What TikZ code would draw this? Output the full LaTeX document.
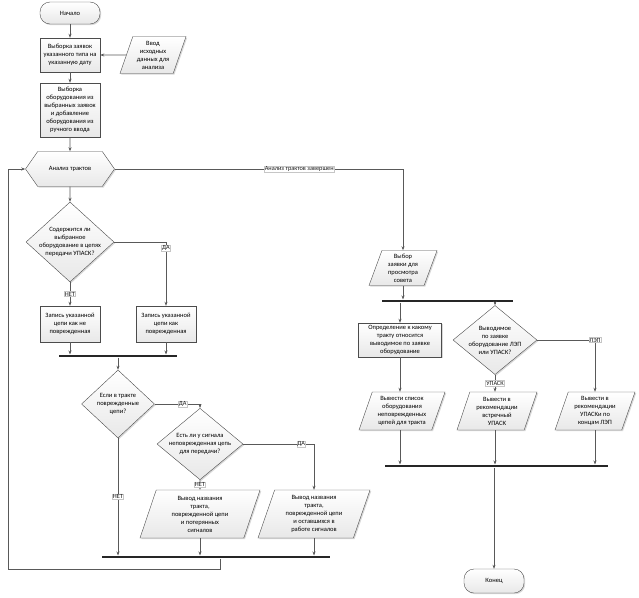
\documentclass[tikz,border=0pt]{standalone}
\usepackage{fontspec}
\setmainfont{Carlito}
\usetikzlibrary{shapes.geometric, shapes.symbols, positioning, arrows.meta, shadows}

\begin{document}
\begin{tikzpicture}[
    x=1pt, y=-1pt,
    font=\fontsize{6.5}{8}\selectfont,
    % Define the common look of all blocks
    block/.style={
        draw=black!70,
        top color=white,
        bottom color=gray!18,
        align=center,
        inner sep=1pt,
        drop shadow={shadow xshift=1.2pt, shadow yshift=-1.2pt, fill=gray!60}
    },
    terminal/.style={block, rectangle, rounded corners=10pt, minimum width=60pt, minimum height=22pt},
    process/.style={block, rectangle, minimum width=60pt, minimum height=34pt},
    data/.style={
        block, trapezium,
        trapezium left angle=67, trapezium right angle=113,
        trapezium stretches body,
        minimum height=37pt
    },
    decision/.style={block, diamond, inner sep=-3pt},
    preparation/.style={
        block, signal, signal to=west and east, signal pointer angle=110,
        minimum width=89pt, minimum height=35pt
    },
    % Define style for the merge bars
    bar/.style={rectangle, fill=black!85, inner sep=0pt, minimum height=2.6pt},
    % Define style for arrows and their labels
    arrow/.style={-{Stealth[length=4pt, width=3pt]}, line width=0.6pt, black!65},
    lbl/.style={fill=white, draw=gray!45, text=black!90, inner sep=0.6pt, font=\fontsize{6.3}{7}\selectfont}
]
\path [use as bounding box] (0,0) rectangle (639,597);

% 1. Input of the data
\node (start) [terminal] at (70,13) {Начало};
\node (box1) [process] at (70,55) {Выборка заявок\\указанного типа на\\указанную дату};
\node (input) [data, minimum width=66pt] at (153,55) {Ввод\\исходных\\данных для\\анализа};
\node (box2) [process, minimum height=54pt] at (70,110) {Выборка\\оборудования из\\выбранных заявок\\и добавление\\оборудования из\\ручного ввода};

% 2. Loop over the paths
\node (prep) [preparation] at (70,169) {Анализ трактов};
\node (dia1) [decision, minimum width=88pt, minimum height=80pt] at (70,242) {Содержится ли\\выбранное\\оборудование в цепях\\передачи УПАСК?};
\node (box3) [process, minimum height=36pt] at (70,324) {Запись указанной\\цепи как не\\поврежденная};
\node (box4) [process, minimum height=36pt] at (166,324) {Запись указанной\\цепи как\\поврежденная};
\node (bar1) [bar, minimum width=118pt] at (118,356) {};
\node (dia2) [decision, minimum width=73pt, minimum height=68pt] at (118,404) {Если в тракте\\поврежденные\\цепи?};
\node (dia3) [decision, minimum width=86pt, minimum height=56pt] at (200,444) {Есть ли у сигнала\\неповрежденная цепь\\для передачи?};
\node (p5) [data, minimum width=120pt, minimum height=48pt] at (200,514) {Вывод названия\\тракта,\\поврежденной цепи\\и потерянных\\сигналов};
\node (p6) [data, minimum width=112pt, minimum height=48pt] at (314,514) {Вывод названия\\тракта,\\поврежденной цепи\\и оставшихся в\\работе сигналов};
\node (bar2) [bar, minimum width=228pt] at (216,557) {};
\coordinate (loopcorner) at (8,569);

% 3. Recommendations
\node (select) [data, minimum width=68pt, minimum height=35pt] at (403,268) {Выбор\\заявки для\\просмотра\\совета};
\node (bar3) [bar, minimum width=131pt] at (447,301) {};
\node (def) [process, minimum width=83pt] at (400,340) {Определение к какому\\тракту относится\\выводимое по заявке\\оборудование};
\node (dia4) [decision, minimum width=84pt, minimum height=56pt] at (495,340) {Выводимое\\по заявке\\оборудование ЛЭП\\или УПАСК?};
\node (p7) [data, minimum width=86pt, minimum height=38pt] at (402,411) {Вывести список\\оборудования\\неповрежденных\\цепей для тракта};
\node (p8) [data, minimum width=80pt, minimum height=38pt] at (497,411) {Вывести в\\рекомендации\\встречный\\УПАСК};
\node (p9) [data, minimum width=80pt, minimum height=38pt] at (595,411) {Вывести в\\рекомендации\\УПАСКи по\\концам ЛЭП};
\node (bar4) [bar, minimum width=223pt] at (496,466) {};
\node (end) [terminal, minimum height=24pt] at (494,581) {Конец};

% Draw arrows to show the flow
\draw [arrow] (start) -- (box1);
\draw [arrow] (input.west) -- (box1.east);
\draw [arrow] (box1) -- (box2);
\draw [arrow] (box2) -- (prep);
\draw [arrow] (prep) -- (dia1);
\draw [arrow] (dia1.east) -| node [lbl, pos=0.55] {ДА} (box4.north);
\draw [arrow] (dia1.south) -- node [lbl] {НЕТ} (box3.north);
\draw [arrow] (box3.south) -- (box3.south |- bar1.north);
\draw [arrow] (box4.south) -- (box4.south |- bar1.north);
\draw [arrow] (bar1.south) -- (dia2.north);
\draw [arrow] (dia2.east) -| node [lbl, pos=0.31] {ДА} (dia3.north);
\draw [arrow] (dia3.east) -| node [lbl, pos=0.41] {ДА} (p6.north);
\draw [arrow] (dia3.south) -- node [lbl] {НЕТ} (p5.north);
\draw [arrow] (dia2.south) -- node [lbl] {НЕТ} (dia2.south |- bar2.north);
\draw [arrow] (p5.south) -- (p5.south |- bar2.north);
\draw [arrow] (p6.south) -- (p6.south |- bar2.north);
\draw [arrow] ([xshift=4pt]bar2.south) |- (loopcorner) |- (prep.west);
\draw [arrow] (prep.east) -| node [lbl, pos=0.32] {Анализ трактов завершен} (select.north);
\draw [arrow] (select.south) -- (select.south |- bar3.north);
\draw [arrow] (def.north |- bar3.south) -- (def.north);
\draw [arrow] (dia4.north |- bar3.south) -- (dia4.north);
\draw [arrow] (def.south) -- (def.south |- p7.north);
\draw [arrow] (dia4.south) -- node [lbl] {УПАСК} (dia4.south |- p8.north);
\draw [arrow] (dia4.east) -| node [lbl] {ЛЭП} (p9.north);
\draw [arrow] (def.south |- p7.south) -- (def.south |- bar4.north);
\draw [arrow] (dia4.south |- p8.south) -- (dia4.south |- bar4.north);
\draw [arrow] (p9.south) -- (p9.south |- bar4.north);
\draw [arrow] (end.north |- bar4.south) -- (end.north);

\end{tikzpicture}
\end{document}
